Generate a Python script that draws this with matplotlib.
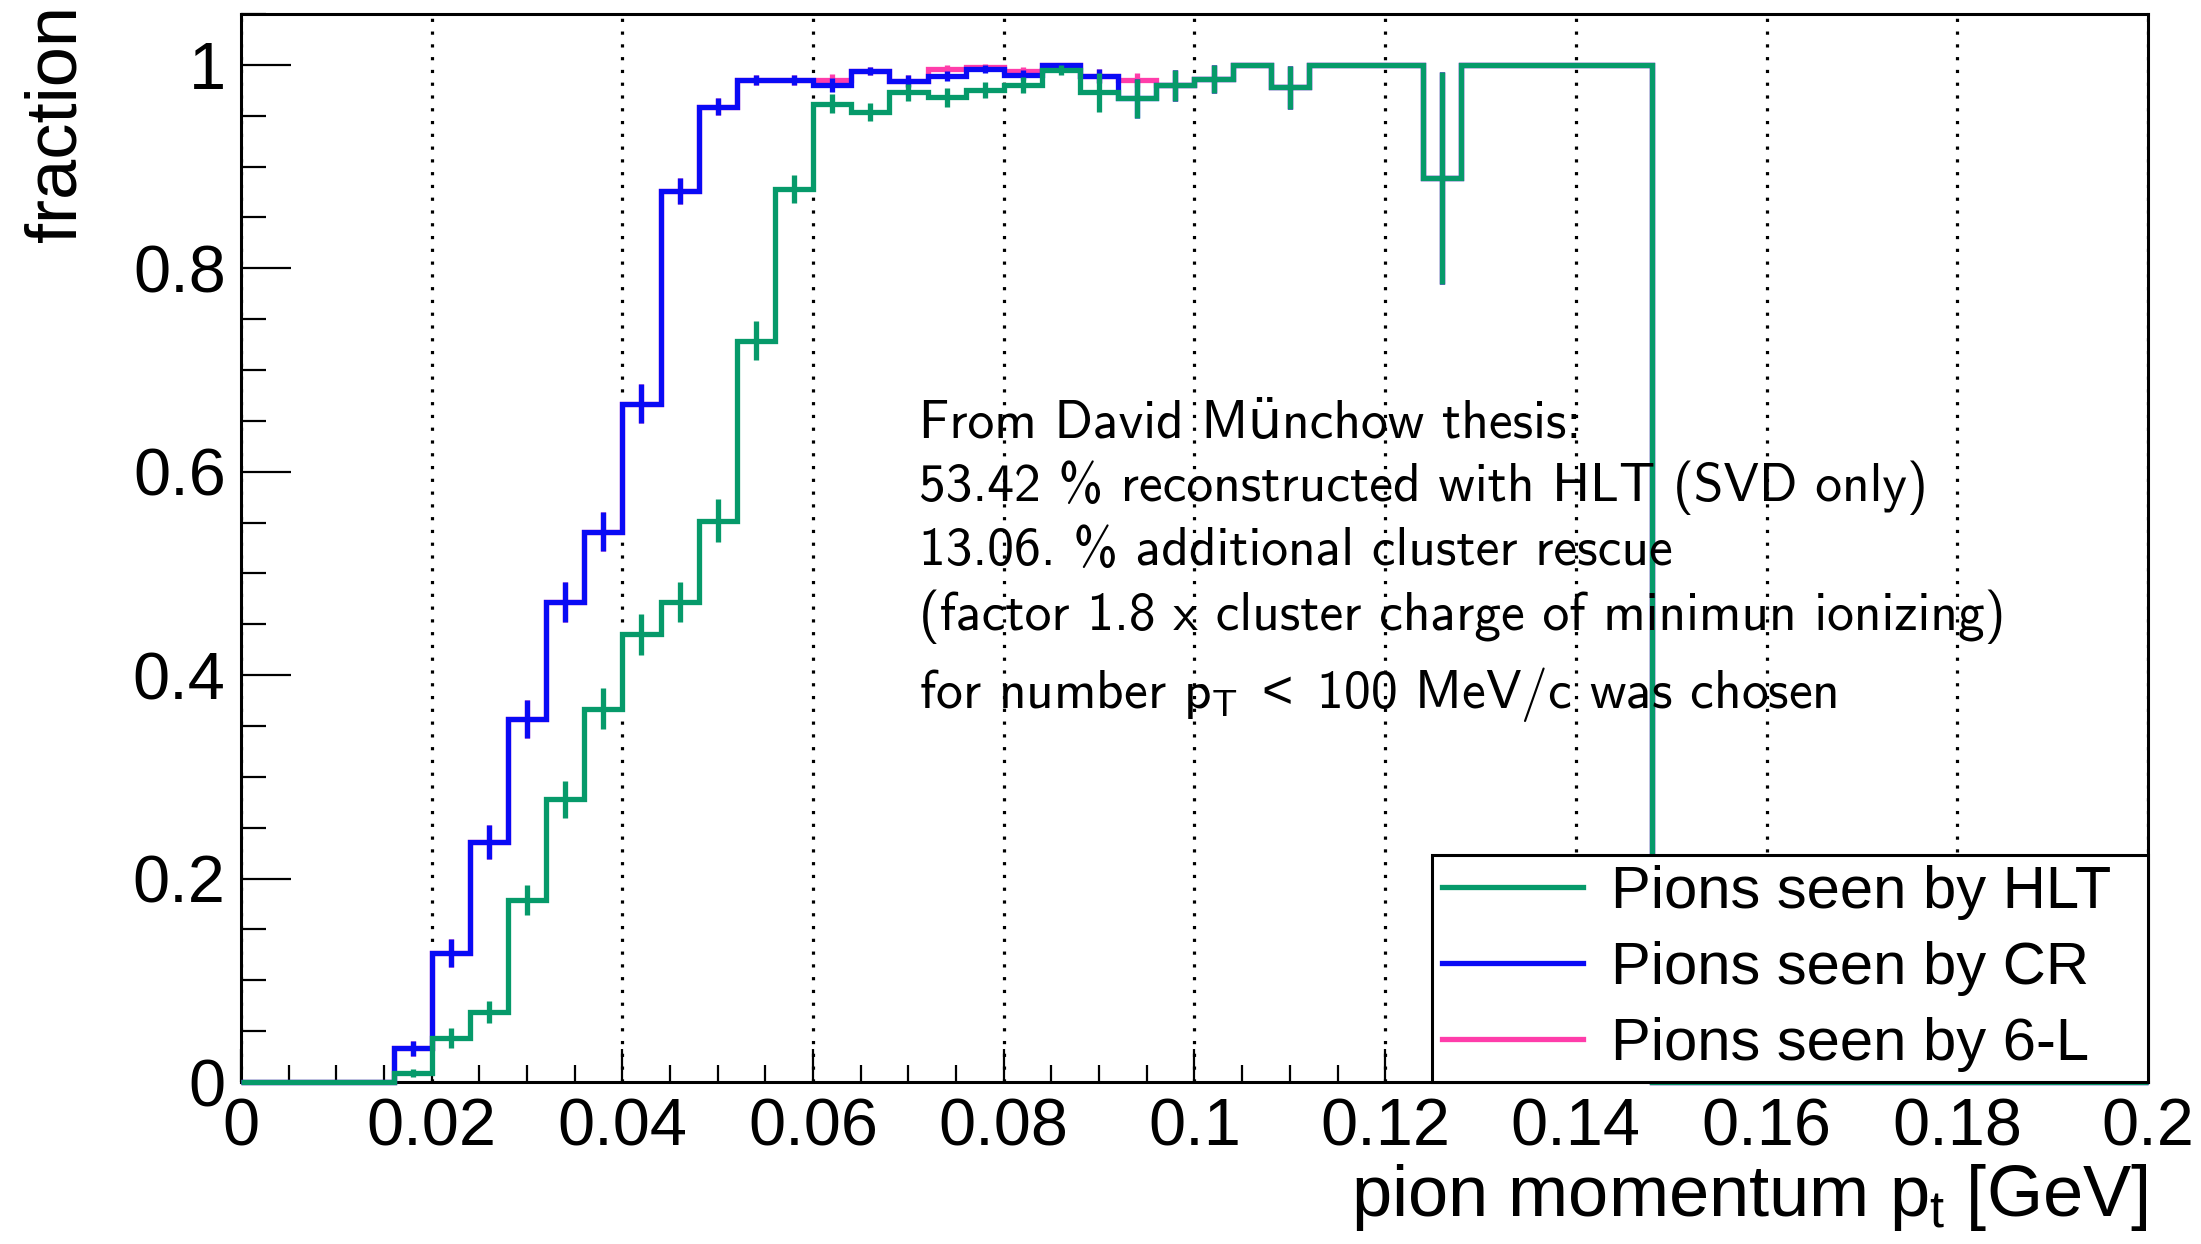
import numpy as np
import matplotlib
matplotlib.use("Agg")
import matplotlib.pyplot as plt
from matplotlib.lines import Line2D

plt.rcParams['font.family'] = ['Liberation Sans', 'DejaVu Sans']
plt.rcParams['mathtext.fontset'] = 'custom'
plt.rcParams['mathtext.rm'] = 'Liberation Sans'
plt.rcParams['mathtext.it'] = 'Liberation Sans:italic'
plt.rcParams['mathtext.sf'] = 'cmss10'

# 50 bins, 4 MeV wide, 0 - 0.2 GeV
bin_edges = np.linspace(0, 0.2, 51)

hlt = [0, 0, 0, 0, 0.009, 0.043, 0.069, 0.179, 0.278, 0.367,
       0.440, 0.472, 0.552, 0.729, 0.878, 0.962, 0.954, 0.973, 0.968, 0.975,
       0.980, 0.995, 0.973, 0.967, 0.980, 0.986, 1.0, 0.978, 1.0, 1.0,
       1.0, 0.889, 1.0, 1.0, 1.0, 1.0, 1.0, 0, 0, 0,
       0, 0, 0, 0, 0, 0, 0, 0, 0, 0]
hlt_err = [0, 0, 0, 0, 0.004, 0.010, 0.011, 0.015, 0.018, 0.020,
           0.020, 0.020, 0.021, 0.019, 0.014, 0.009, 0.009, 0.008, 0.009, 0.008,
           0.008, 0.005, 0.019, 0.019, 0.015, 0.014, 0, 0.021, 0, 0,
           0, 0.104, 0, 0, 0, 0, 0, 0, 0, 0,
           0, 0, 0, 0, 0, 0, 0, 0, 0, 0]

cr = [0, 0, 0, 0, 0.033, 0.127, 0.236, 0.357, 0.472, 0.541,
      0.667, 0.876, 0.959, 0.985, 0.985, 0.980, 0.994, 0.984, 0.989, 0.996,
      0.990, 1.0, 0.989, 0.967, 0.980, 0.986, 1.0, 0.978, 1.0, 1.0,
      1.0, 0.889, 1.0, 1.0, 1.0, 1.0, 1.0, 0, 0, 0,
      0, 0, 0, 0, 0, 0, 0, 0, 0, 0]
cr_err = [0, 0, 0, 0, 0.007, 0.014, 0.017, 0.019, 0.020, 0.019,
          0.019, 0.013, 0.008, 0.005, 0.005, 0.007, 0.004, 0.006, 0.005, 0.004,
          0.005, 0, 0.007, 0.019, 0.015, 0.014, 0, 0.021, 0, 0,
          0, 0.104, 0, 0, 0, 0, 0, 0, 0, 0,
          0, 0, 0, 0, 0, 0, 0, 0, 0, 0]

six_l = [0, 0, 0, 0, 0.033, 0.127, 0.236, 0.357, 0.472, 0.541,
         0.667, 0.876, 0.959, 0.985, 0.985, 0.985, 0.994, 0.984, 0.996, 0.998,
         0.994, 1.0, 0.989, 0.985, 0.980, 0.986, 1.0, 0.978, 1.0, 1.0,
         1.0, 0.889, 1.0, 1.0, 1.0, 1.0, 1.0, 0, 0, 0,
         0, 0, 0, 0, 0, 0, 0, 0, 0, 0]
six_l_err = [0, 0, 0, 0, 0.007, 0.014, 0.017, 0.019, 0.020, 0.019,
             0.019, 0.013, 0.008, 0.005, 0.005, 0.006, 0.004, 0.006, 0.004, 0.003,
             0.004, 0, 0.007, 0.007, 0.015, 0.014, 0, 0.021, 0, 0,
             0, 0.104, 0, 0, 0, 0, 0, 0, 0, 0,
             0, 0, 0, 0, 0, 0, 0, 0, 0, 0]

labels = ["Pions seen by HLT", "Pions seen by CR", "Pions seen by 6-L"]
colors = ["#069a6a", "#0a0af5", "#ff3daa"]

xticks = [0, 0.02, 0.04, 0.06, 0.08, 0.1, 0.12, 0.14, 0.16, 0.18, 0.2]
xtick_labels = ["0", "0.02", "0.04", "0.06", "0.08", "0.1", "0.12", "0.14", "0.16", "0.18", "0.2"]
yticks = [0, 0.2, 0.4, 0.6, 0.8, 1.0]
ytick_labels = ["0", "0.2", "0.4", "0.6", "0.8", "1"]

note_lines = ["From David Münchow thesis:",
              "53.42 % reconstructed with HLT (SVD only)",
              "13.06. % additional cluster rescue",
              "(factor 1.8 x cluster charge of minimun ionizing)",
              r"for number $\mathsf{p}_{\mathsf{T}}\ <\ \mathsf{100}$ MeV/c was chosen"]
note_y = [0.633, 0.571, 0.508, 0.444, 0.368]

fig = plt.figure(figsize=(22.01, 12.44), dpi=100)
ax = fig.add_axes([0.1095, 0.1302, 0.8664, 0.8585])

centers = 0.5 * (bin_edges[:-1] + bin_edges[1:])
lw = 3.8
# draw order: 6-L, CR, HLT on top
for vals, errs, c, z in [(six_l, six_l_err, colors[2], 3),
                         (cr, cr_err, colors[1], 4),
                         (hlt, hlt_err, colors[0], 5)]:
    st = ax.stairs(vals, bin_edges, color=c, lw=lw, baseline=None, zorder=z, clip_on=False)
    st.set_joinstyle('miter')
    ax.errorbar(centers, vals, yerr=errs, fmt='none', ecolor=c, elinewidth=lw,
                capsize=0, zorder=z)

ax.set_xlim(0, 0.2)
ax.set_ylim(0, 1.05)

ax.set_xticks(xticks)
ax.set_xticklabels(xtick_labels)
ax.set_xticks(np.arange(0, 0.2001, 0.005), minor=True)
ax.set_yticks(yticks)
ax.set_yticklabels(ytick_labels)
ax.set_yticks(np.arange(0, 1.0501, 0.05), minor=True)

ax.tick_params(axis='both', which='both', direction='in', width=1.6, labelsize=48, pad=11)
ax.tick_params(axis='x', which='major', length=24)
ax.tick_params(axis='x', which='minor', length=12)
ax.tick_params(axis='y', which='major', length=36)
ax.tick_params(axis='y', which='minor', length=18)

for sp in ax.spines.values():
    sp.set_linewidth(2.2)

# dotted vertical grid at major x ticks
ax.xaxis.grid(True, which='major', color='black', linestyle=(0, (1, 3)), lw=2.3)
ax.set_axisbelow(True)

ax.set_xlabel(r"pion momentum p$_{\mathrm{t}}$ [GeV]", fontsize=52, loc='right', labelpad=2)
ax.set_ylabel("fraction", fontsize=52, loc='top')
ax.yaxis.set_label_coords(-0.079, 1.009)

for txt, yy in zip(note_lines, note_y):
    ax.text(0.0711, yy, txt, fontsize=38.5, va='baseline', ha='left',
            family=['cmss10', 'DejaVu Sans'], zorder=6)

handles = [Line2D([], [], color=c, lw=lw) for c in colors]
leg = ax.legend(handles, labels, loc='lower left', bbox_to_anchor=(0.6245, 0, 0.3755, 0.3),
                mode='expand', borderaxespad=0, fontsize=43, fancybox=False, framealpha=1,
                edgecolor='black', handlelength=2.36, handletextpad=0.47,
                borderpad=0.17, labelspacing=0.35)
leg.get_frame().set_linewidth(2.2)
leg.set_zorder(7)

fig.savefig("out.png", dpi=100)
